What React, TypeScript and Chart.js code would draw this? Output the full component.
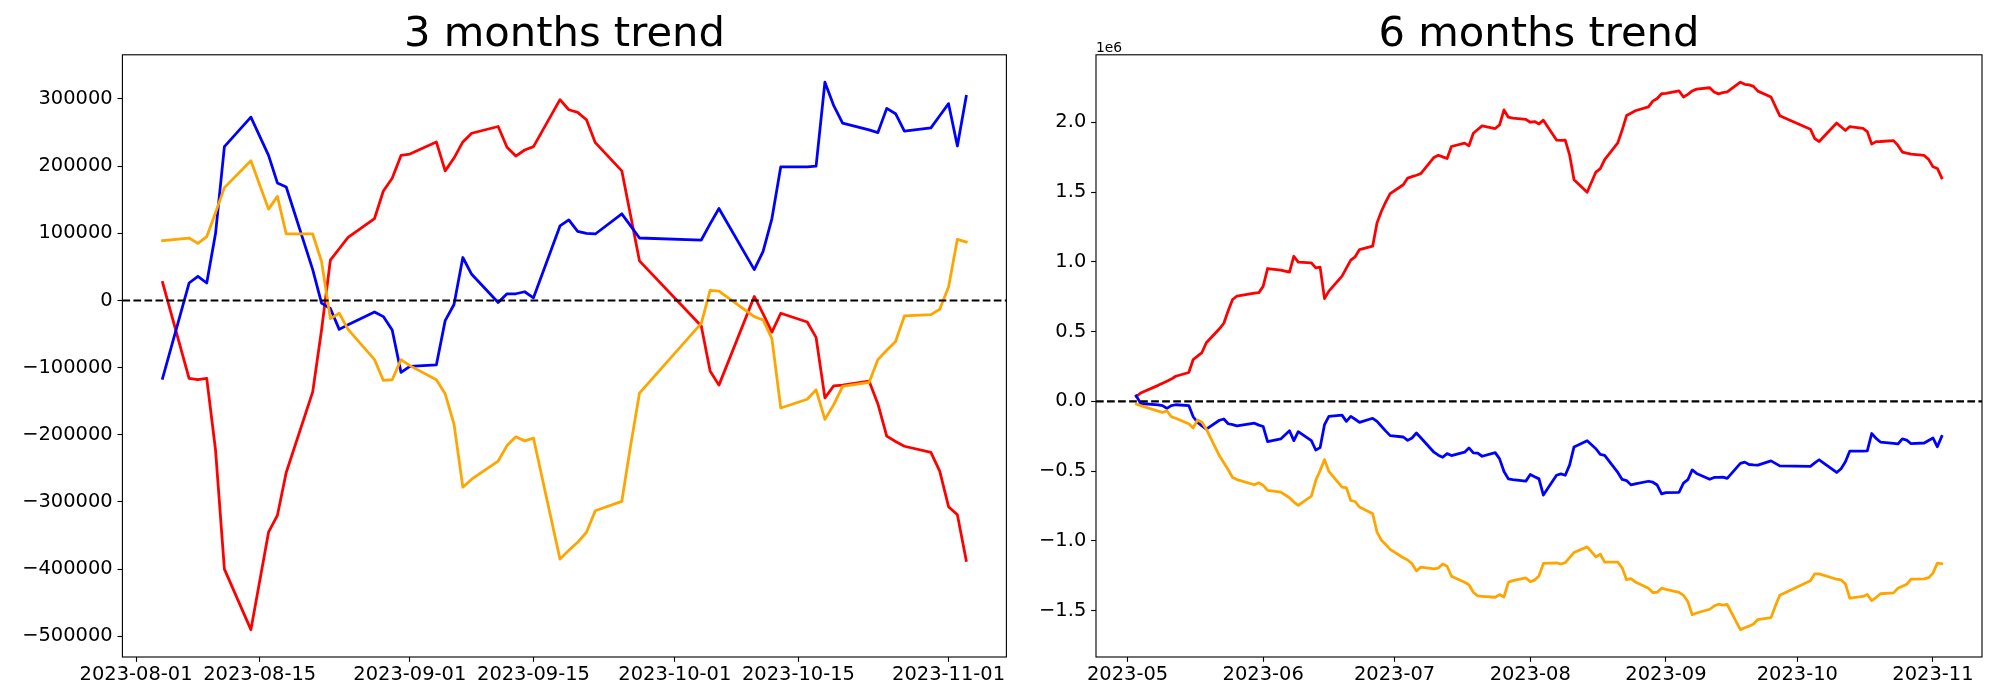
import React, { useEffect, useRef } from "react";
import { Chart, registerables } from "chart.js";

Chart.register(...registerables);

const FONT = '"DejaVu Sans", "Liberation Sans", sans-serif';
const MINUS = "\u2212";

// ---------------- 3 months trend ----------------
const threeMonthDates = [
  "2023-08-04", "2023-08-07", "2023-08-08", "2023-08-09", "2023-08-10", "2023-08-11", "2023-08-14", "2023-08-16",
  "2023-08-17", "2023-08-18", "2023-08-21", "2023-08-22", "2023-08-23", "2023-08-24", "2023-08-25", "2023-08-28",
  "2023-08-29", "2023-08-30", "2023-08-31", "2023-09-01", "2023-09-04", "2023-09-05", "2023-09-06", "2023-09-07",
  "2023-09-08", "2023-09-11", "2023-09-12", "2023-09-13", "2023-09-14", "2023-09-15", "2023-09-18", "2023-09-19",
  "2023-09-20", "2023-09-21", "2023-09-22", "2023-09-25", "2023-09-26", "2023-09-27", "2023-10-04", "2023-10-05",
  "2023-10-06", "2023-10-10", "2023-10-11", "2023-10-12", "2023-10-13", "2023-10-16", "2023-10-17", "2023-10-18",
  "2023-10-19", "2023-10-20", "2023-10-23", "2023-10-24", "2023-10-25", "2023-10-26", "2023-10-27", "2023-10-30",
  "2023-10-31", "2023-11-01", "2023-11-02", "2023-11-03",
];
const threeMonthBlue = [
  -116000, 26000, 36000, 26000, 100000, 229000, 273000, 216000, 175000, 169000,
  46000, -4000, -12000, -43000, -36000, -17000, -24000, -44000, -107000, -98000,
  -96000, -30000, -6000, 64000, 39000, -3000, 10000, 10000, 13000, 4000,
  111000, 120000, 103000, 100000, 99000, 129000, 111000, 93000, 90000, 114000,
  137000, 46000, 73000, 122000, 199000, 199000, 200000, 325000, 290000, 264000,
  254000, 250000, 286000, 278000, 252000, 257000, 275000, 293000, 230000, 304000,
];
const threeMonthRed = [
  27000, -116000, -118000, -116000, -223000, -400000, -490000, -345000, -320000, -256000,
  -136000, -44000, 60000, 77000, 94000, 122000, 163000, 182000, 216000, 218000,
  236000, 193000, 212000, 236000, 249000, 259000, 228000, 215000, 224000, 229000,
  299000, 284000, 280000, 269000, 235000, 193000, 126000, 59000, -38000, -105000,
  -126000, 6000, -20000, -47000, -19000, -32000, -55000, -145000, -127000, -126000,
  -120000, -154000, -202000, -210000, -217000, -226000, -254000, -307000, -319000, -387000,
];
const threeMonthOrange = [
  89000, 93000, 85000, 95000, 131000, 168000, 208000, 136000, 155000, 99000,
  99000, 58000, -27000, -19000, -43000, -88000, -119000, -118000, -88000, -97000,
  -118000, -139000, -184000, -278000, -266000, -239000, -216000, -203000, -209000, -205000,
  -385000, -372000, -360000, -345000, -313000, -299000, -216000, -138000, -34000, 15000,
  14000, -24000, -29000, -57000, -160000, -147000, -133000, -177000, -155000, -128000,
  -122000, -88000, -74000, -61000, -23000, -21000, -13000, 20000, 91000, 87000,
];
const threeMonthXTicks = ["2023-08-01", "2023-08-15", "2023-09-01", "2023-09-15", "2023-10-01", "2023-10-15", "2023-11-01"];
const threeMonthYTicks = [-500000, -400000, -300000, -200000, -100000, 0, 100000, 200000, 300000];

// ---------------- 6 months trend (values in 1e6) ----------------
const sixMonthDates = [
  "2023-05-03", "2023-05-04", "2023-05-08", "2023-05-09", "2023-05-10", "2023-05-11", "2023-05-12", "2023-05-15",
  "2023-05-16", "2023-05-17", "2023-05-18", "2023-05-19", "2023-05-22", "2023-05-23", "2023-05-24", "2023-05-25",
  "2023-05-26", "2023-05-30", "2023-05-31",
  "2023-06-01", "2023-06-02", "2023-06-05", "2023-06-07", "2023-06-08", "2023-06-09", "2023-06-12", "2023-06-13",
  "2023-06-14", "2023-06-15", "2023-06-16", "2023-06-19", "2023-06-20", "2023-06-21", "2023-06-22", "2023-06-23",
  "2023-06-26", "2023-06-27", "2023-06-28", "2023-06-29", "2023-06-30",
  "2023-07-03", "2023-07-04", "2023-07-05", "2023-07-06", "2023-07-07", "2023-07-10", "2023-07-11", "2023-07-12",
  "2023-07-13", "2023-07-14", "2023-07-17", "2023-07-18", "2023-07-19", "2023-07-20", "2023-07-21", "2023-07-24",
  "2023-07-25", "2023-07-26", "2023-07-27", "2023-07-28", "2023-07-31",
  "2023-08-01", "2023-08-02", "2023-08-03",
  "2023-08-04", "2023-08-07", "2023-08-08", "2023-08-09", "2023-08-10", "2023-08-11", "2023-08-14", "2023-08-16",
  "2023-08-17", "2023-08-18", "2023-08-21", "2023-08-22", "2023-08-23", "2023-08-24", "2023-08-25", "2023-08-28",
  "2023-08-29", "2023-08-30", "2023-08-31", "2023-09-01", "2023-09-04", "2023-09-05", "2023-09-06", "2023-09-07",
  "2023-09-08", "2023-09-11", "2023-09-12", "2023-09-13", "2023-09-14", "2023-09-15", "2023-09-18", "2023-09-19",
  "2023-09-20", "2023-09-21", "2023-09-22", "2023-09-25", "2023-09-26", "2023-09-27", "2023-10-04", "2023-10-05",
  "2023-10-06", "2023-10-10", "2023-10-11", "2023-10-12", "2023-10-13", "2023-10-16", "2023-10-17", "2023-10-18",
  "2023-10-19", "2023-10-20", "2023-10-23", "2023-10-24", "2023-10-25", "2023-10-26", "2023-10-27", "2023-10-30",
  "2023-10-31", "2023-11-01", "2023-11-02", "2023-11-03",
];
const sixMonthRed = [
  0.035, 0.06, 0.115, 0.13, 0.145, 0.16, 0.18, 0.207, 0.30, 0.325, 0.35, 0.42, 0.52, 0.56, 0.65, 0.73, 0.755, 0.775, 0.779,
  0.826, 0.952, 0.94, 0.926, 1.04, 0.998, 0.993, 0.957, 0.962, 0.736, 0.79, 0.898, 0.955, 1.012, 1.036, 1.088, 1.112, 1.279, 1.362, 1.43, 1.488,
  1.552, 1.60, 1.61, 1.62, 1.632, 1.748, 1.764, 1.752, 1.74, 1.826, 1.85, 1.831, 1.921, 1.948, 1.974, 1.955, 1.981, 2.088, 2.036, 2.029, 2.021,
  2.0, 2.005, 1.988,
  2.015, 1.872, 1.870, 1.872, 1.765, 1.588, 1.498, 1.643, 1.668, 1.732,
  1.852, 1.944, 2.048, 2.065, 2.082, 2.110, 2.151, 2.170, 2.204, 2.206,
  2.224, 2.181, 2.200, 2.224, 2.237, 2.247, 2.216, 2.203, 2.212, 2.217,
  2.287, 2.272, 2.268, 2.257, 2.223, 2.181, 2.114, 2.047, 1.950, 1.883,
  1.862, 1.994, 1.968, 1.941, 1.969, 1.956, 1.933, 1.843, 1.861, 1.862,
  1.868, 1.834, 1.786, 1.778, 1.771, 1.762, 1.734, 1.681, 1.669, 1.601,
];
const sixMonthBlue = [
  0.04, -0.015, -0.025, -0.03, -0.05, -0.03, -0.024, -0.03, -0.11, -0.15, -0.175, -0.198, -0.135, -0.126, -0.16, -0.167, -0.175, -0.156, -0.17,
  -0.18, -0.288, -0.269, -0.21, -0.281, -0.217, -0.281, -0.348, -0.331, -0.167, -0.107, -0.098, -0.143, -0.107, -0.128, -0.15, -0.121, -0.143, -0.178, -0.213, -0.245,
  -0.255, -0.279, -0.262, -0.226, -0.26, -0.364, -0.385, -0.4, -0.374, -0.388, -0.364, -0.333, -0.369, -0.371, -0.393, -0.367, -0.412, -0.502, -0.555, -0.56, -0.571,
  -0.524, -0.54, -0.555,
  -0.671, -0.529, -0.519, -0.529, -0.455, -0.326, -0.282, -0.339, -0.380, -0.386,
  -0.509, -0.559, -0.567, -0.598, -0.591, -0.572, -0.579, -0.599, -0.662, -0.653,
  -0.651, -0.585, -0.561, -0.491, -0.516, -0.558, -0.545, -0.545, -0.542, -0.551,
  -0.444, -0.435, -0.452, -0.455, -0.456, -0.426, -0.444, -0.462, -0.465, -0.441,
  -0.418, -0.509, -0.482, -0.433, -0.356, -0.356, -0.355, -0.230, -0.265, -0.291,
  -0.301, -0.305, -0.269, -0.277, -0.303, -0.298, -0.280, -0.262, -0.325, -0.251,
];
const sixMonthOrange = [
  -0.02, -0.03, -0.07, -0.079, -0.067, -0.11, -0.121, -0.16, -0.19, -0.133, -0.15, -0.198, -0.39, -0.44, -0.49, -0.545, -0.56, -0.597, -0.583,
  -0.602, -0.638, -0.65, -0.69, -0.721, -0.745, -0.679, -0.567, -0.495, -0.417, -0.502, -0.614, -0.619, -0.71, -0.717, -0.757, -0.805, -0.936, -0.995, -1.025, -1.06,
  -1.12, -1.136, -1.163, -1.214, -1.187, -1.199, -1.194, -1.165, -1.181, -1.253, -1.296, -1.313, -1.367, -1.394, -1.396, -1.403, -1.384, -1.401, -1.296, -1.284, -1.265,
  -1.291, -1.28, -1.25,
  -1.161, -1.157, -1.165, -1.155, -1.119, -1.082, -1.042, -1.114, -1.095, -1.151,
  -1.151, -1.192, -1.277, -1.269, -1.293, -1.338, -1.369, -1.368, -1.338, -1.347,
  -1.368, -1.389, -1.434, -1.528, -1.516, -1.489, -1.466, -1.453, -1.459, -1.455,
  -1.635, -1.622, -1.610, -1.595, -1.563, -1.549, -1.466, -1.388, -1.284, -1.235,
  -1.236, -1.274, -1.279, -1.307, -1.410, -1.397, -1.383, -1.427, -1.405, -1.378,
  -1.372, -1.338, -1.324, -1.311, -1.273, -1.271, -1.263, -1.230, -1.159, -1.163,
];
const sixMonthXTicks = ["2023-05", "2023-06", "2023-07", "2023-08", "2023-09", "2023-10", "2023-11"];
const sixMonthYTicks = [-1.5, -1.0, -0.5, 0.0, 0.5, 1.0, 1.5, 2.0];

function toDay(s: string): number {
  const p = s.split("-").map(Number);
  return Date.UTC(p[0], p[1] - 1, p[2] || 1) / 86400000;
}

const framePlugin = {
  id: "mplFrame",
  afterDraw(chart: any, _args: any, opts: any) {
    const { ctx, chartArea: a } = chart;
    ctx.save();
    ctx.strokeStyle = "#000";
    ctx.lineWidth = 1.11;
    ctx.strokeRect(a.left, a.top, a.right - a.left, a.bottom - a.top);
    ctx.fillStyle = "#000";
    ctx.textBaseline = "alphabetic";
    ctx.textAlign = "center";
    ctx.font = `41.67px ${FONT}`;
    ctx.fillText(opts.title, (a.left + a.right) / 2, a.top - 8.33);
    if (opts.offsetText) {
      ctx.textAlign = "left";
      ctx.font = `13.89px ${FONT}`;
      ctx.fillText(opts.offsetText, a.left, a.top - 3.2);
    }
    ctx.restore();
  },
};

type Spec = {
  dates: string[];
  red: number[];
  blue: number[];
  orange: number[];
  xTicks: string[];
  yTicks: number[];
  yFmt: (v: number) => string;
  yAxisWidth: number;
  padRight: number;
  title: string;
  offsetText?: string;
};

function buildConfig(spec: Spec): any {
  const xs = spec.dates.map(toDay);
  const x0 = Math.min(...xs);
  const x1 = Math.max(...xs);
  const xPad = (x1 - x0) * 0.05;
  const all = [...spec.red, ...spec.blue, ...spec.orange];
  const y0 = Math.min(...all);
  const y1 = Math.max(...all);
  const yPad = (y1 - y0) * 0.05;
  const xMin = x0 - xPad;
  const xMax = x1 + xPad;
  const pts = (vals: number[]) => vals.map((v, i) => ({ x: xs[i], y: v }));
  const series = (label: string, vals: number[], color: string, order: number) => ({
    label,
    data: pts(vals),
    borderColor: color,
    backgroundColor: color,
    borderWidth: 2.78,
    borderJoinStyle: "round",
    borderCapStyle: "square",
    pointRadius: 0,
    tension: 0,
    fill: false,
    order,
  });
  const tickFont = { family: FONT, size: 19.44 };
  const grid = {
    display: true,
    drawOnChartArea: false,
    drawTicks: true,
    tickLength: 4.86,
    tickWidth: 1.11,
    tickColor: "#000",
  };
  return {
    type: "line",
    data: {
      datasets: [
        {
          label: "zero",
          data: [{ x: xMin, y: 0 }, { x: xMax, y: 0 }],
          borderColor: "#000",
          borderWidth: 2.08,
          borderDash: [7.7, 3.33],
          pointRadius: 0,
          fill: false,
          order: 0,
        },
        series("orange", spec.orange, "#ffa500", 1),
        series("blue", spec.blue, "#0000ff", 2),
        series("red", spec.red, "#ff0000", 3),
      ],
    },
    options: {
      responsive: false,
      animation: false,
      events: [],
      layout: { padding: { left: 0, top: 54.8, right: spec.padRight, bottom: 0 } },
      plugins: {
        legend: { display: false },
        title: { display: false },
        tooltip: { enabled: false },
        mplFrame: { title: spec.title, offsetText: spec.offsetText },
      },
      scales: {
        x: {
          type: "linear",
          min: xMin,
          max: xMax,
          afterBuildTicks: (s: any) => {
            s.ticks = spec.xTicks.map((t) => ({ value: toDay(t) }));
          },
          afterFit: (s: any) => {
            s.height = 43;
          },
          ticks: {
            autoSkip: false,
            maxRotation: 0,
            minRotation: 0,
            color: "#000",
            font: tickFont,
            padding: 1.5,
            callback: (_v: any, i: number) => spec.xTicks[i],
          },
          grid,
          border: { display: false },
        },
        y: {
          type: "linear",
          min: y0 - yPad,
          max: y1 + yPad,
          afterBuildTicks: (s: any) => {
            s.ticks = spec.yTicks.map((v) => ({ value: v }));
          },
          afterFit: (s: any) => {
            s.width = spec.yAxisWidth;
          },
          ticks: {
            color: "#000",
            font: tickFont,
            padding: 4.86,
            callback: (v: any) => spec.yFmt(Number(v)),
          },
          grid,
          border: { display: false },
        },
      },
    },
    plugins: [framePlugin],
  };
}

const fmtInt = (v: number) => (v < 0 ? MINUS + String(Math.abs(v)) : String(v));
const fmtOne = (v: number) => (v < 0 ? MINUS + Math.abs(v).toFixed(1) : v.toFixed(1));

export default function App() {
  const leftRef = useRef<HTMLCanvasElement | null>(null);
  const rightRef = useRef<HTMLCanvasElement | null>(null);

  useEffect(() => {
    document.body.style.overflow = "hidden";
    const left = new Chart(
      leftRef.current as HTMLCanvasElement,
      buildConfig({
        dates: threeMonthDates,
        red: threeMonthRed,
        blue: threeMonthBlue,
        orange: threeMonthOrange,
        xTicks: threeMonthXTicks,
        yTicks: threeMonthYTicks,
        yFmt: fmtInt,
        yAxisWidth: 122.4,
        padRight: 1020 - 1006.4,
        title: "3 months trend",
      })
    );
    const right = new Chart(
      rightRef.current as HTMLCanvasElement,
      buildConfig({
        dates: sixMonthDates,
        red: sixMonthRed,
        blue: sixMonthBlue,
        orange: sixMonthOrange,
        xTicks: sixMonthXTicks,
        yTicks: sixMonthYTicks,
        yFmt: fmtOne,
        yAxisWidth: 76,
        padRight: 18,
        title: "6 months trend",
        offsetText: "1e6",
      })
    );
    return () => {
      left.destroy();
      right.destroy();
    };
  }, []);

  return (
    <div style={{ position: "absolute", left: 0, top: 0, width: 2000, height: 700, background: "#fff", overflow: "hidden" }}>
      <canvas ref={leftRef} width={1020} height={700} style={{ position: "absolute", left: 0, top: 0, width: 1020, height: 700 }} />
      <canvas ref={rightRef} width={980} height={700} style={{ position: "absolute", left: 1020, top: 0, width: 980, height: 700 }} />
    </div>
  );
}
